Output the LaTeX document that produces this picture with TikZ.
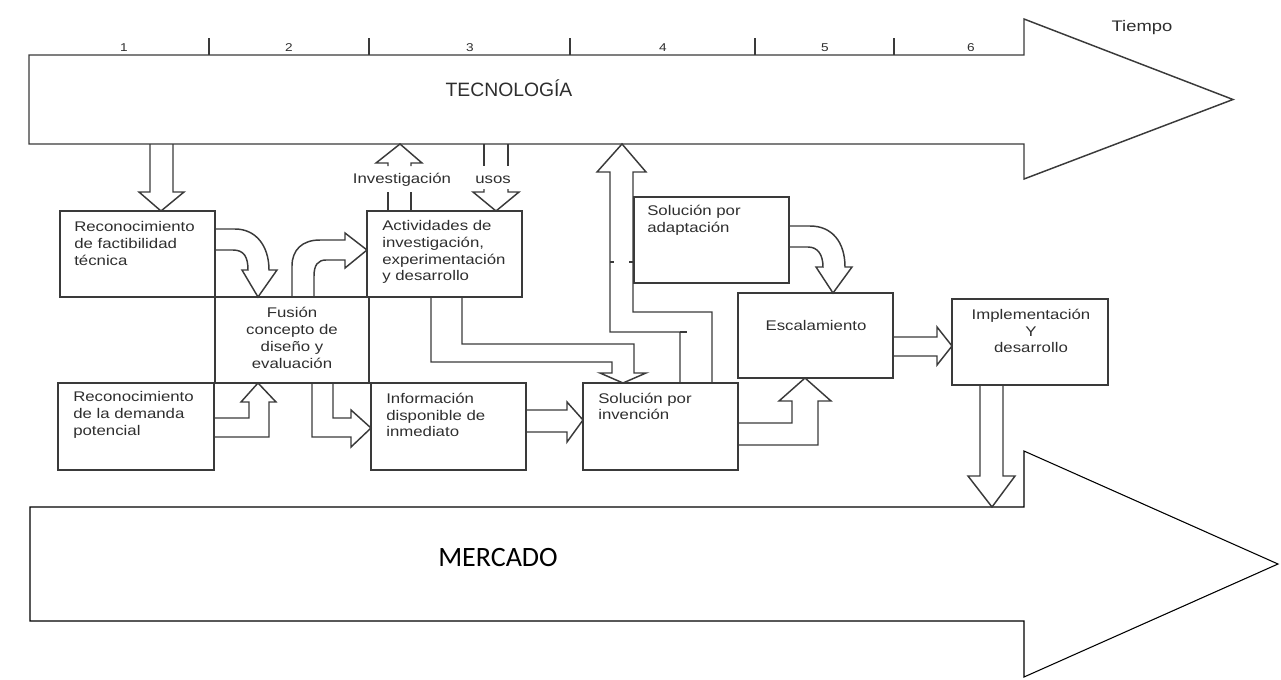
\documentclass[tikz,border=0pt]{standalone}
\usepackage{fontspec}
\setmainfont{Liberation Sans}
\newfontfamily\strfont[FakeStretch=1.2]{Liberation Sans}
\newfontfamily\mercfont{Carlito}
\usetikzlibrary{fit}
\definecolor{lncol}{HTML}{3A3A3A}
\definecolor{txtcol}{HTML}{2E2E2E}
\begin{document}
\begin{tikzpicture}[x=0.75pt,y=-0.75pt,
  ln/.style={draw=lncol, line width=1.1pt, line join=miter},
  box/.style={draw=lncol, line width=1.1pt, inner sep=0pt},
  txt/.style={font=\strfont\fontsize{10.5}{12.6}\selectfont, text=txtcol, inner sep=0pt, align=left},
  ctxt/.style={txt, align=center},
  num/.style={font=\strfont\fontsize{8.5}{10}\selectfont, text=txtcol, inner sep=0pt},
  bigarrow/.style={draw=lncol, line width=1.1pt, fill=white},
  merc/.style={draw=black, line width=0.8pt, fill=white}]
\useasboundingbox (0,0) rectangle (1281,679);

% Technology arrow
\draw[bigarrow] (29,55) -- (1024,55) -- (1024,19) -- (1233,99.5) -- (1024,179) -- (1024,144) -- (29,144) -- cycle;
\node[font=\fontsize{14.5}{16}\selectfont, text=txtcol] (tec) at (509,88) {TECNOLOGÍA};
\foreach \x in {209,369,570,755,894} \draw[ln] (\x,38) -- (\x,55);
\foreach \x/\n in {124/1,289/2,470/3,663/4,825/5,971/6} \node[num] (n\n) at (\x,48) {\n};
\node[font=\strfont\fontsize{11.5}{13}\selectfont, text=txtcol] (tiempo) at (1142,28) {Tiempo};

% Market arrow
\draw[merc] (30,507) -- (1024,507) -- (1024,451) -- (1278,564) -- (1024,677) -- (1024,621) -- (30,621) -- cycle;
\node[font=\mercfont\fontsize{21}{24}\selectfont] (mer) at (498,557) {MERCADO};

% Boxes
\node[box, fit={(60,211) (215,297)}] (A) {};
\node[box, fit={(215,297) (369,383)}] (F) {};
\node[box, fit={(367,211) (522,297)}] (Act) {};
\node[box, fit={(58,383) (214,470)}] (B) {};
\node[box, fit={(371,383) (526,470)}] (Info) {};
\node[box, fit={(583,383) (738,470)}] (SI) {};
\node[box, fit={(634,197) (789,283)}] (SA) {};
\node[box, fit={(738,293) (893,378)}] (Esc) {};
\node[box, fit={(952,299) (1108,385)}] (Imp) {};

% Box texts
\node[txt, anchor=west] (tA) at (74,243.5) {Reconocimiento\\de factibilidad\\técnica};
\node[ctxt] (tF) at (292,338) {Fusión\\concepto de\\diseño y\\evaluación};
\node[txt, anchor=west] (tAct) at (382,252) {Actividades de\\investigación,\\experimentación\\y desarrollo};
\node[txt, anchor=west] (tB) at (73,415) {Reconocimiento\\de la demanda\\potencial};
\node[txt, anchor=west] (tInfo) at (386,415) {Información\\disponible de\\inmediato};
\node[txt, anchor=west] (tSI) at (598,406.5) {Solución por\\invención};
\node[txt, anchor=west] (tSA) at (647,220.5) {Solución por\\adaptación};
\node[ctxt] (tEsc) at (816,325) {Escalamiento};
\node[ctxt] (tImp) at (1031,331) {Implementación\\Y\\desarrollo};

% Labels between technology and Actividades
\node[txt] (linv) at (402,180) {Investigación};
\node[txt] (lusos) at (493,180) {usos};

% Tech -> A
\draw[ln] (150,144) -- (150,192) -- (139,192) -- (161,211) -- (184,192) -- (173,192) -- (173,144);
% Investigacion (up)
\draw[ln] (388,166) -- (388,163) -- (376,163) -- (400,144) -- (422,163) -- (411,163) -- (411,166);
\draw[ln] (388,192) -- (388,211);
\draw[ln] (411,192) -- (411,211);
% usos (down)
\draw[ln] (484,144) -- (484,166);
\draw[ln] (508,144) -- (508,166);
\draw[ln] (484,189) -- (484,192) -- (473,192) -- (496,211) -- (519,192) -- (508,192) -- (508,189);

% A -> Fusion (curved)
\draw[ln] (215,229) -- (235,229) .. controls (256,229) and (269,246) .. (269,270) -- (277,270) -- (258,297) -- (242,270) -- (248,270) .. controls (248,257) and (244,250) .. (233,250) -- (215,250);
% Fusion -> Act (curved)
\draw[ln] (292,297) -- (292,266) .. controls (292,250) and (302,240) .. (320,240) -- (345,240) -- (345,233) -- (367,250) -- (345,268) -- (345,260) -- (326,260) .. controls (318,260) and (314,265) .. (314,276) -- (314,297);
% B -> Fusion
\draw[ln] (214,437) -- (269,437) -- (269,402) -- (276,402) -- (258,383) -- (241,402) -- (249,402) -- (249,418) -- (214,418);
% Fusion -> Info
\draw[ln] (312,383) -- (312,437) -- (351,437) -- (351,447) -- (371,428) -- (351,410) -- (351,418) -- (333,418) -- (333,383);
% Info -> SI
\draw[ln] (526,410) -- (567,410) -- (567,402) -- (583,420) -- (567,442) -- (567,432) -- (526,432);
% Act -> SI
\draw[ln] (431,297) -- (431,362) -- (612,362) -- (612,373) -- (600,373) -- (623,383) -- (646,373) -- (634,373) -- (634,344) -- (462,344) -- (462,297);
% SI -> Technology (up)
\draw[ln] (680,383) -- (680,332) -- (610,332) -- (610,172) -- (597,172) -- (622,144) -- (646,172) -- (633,172) -- (633,312) -- (712,312) -- (712,383);
\draw[ln] (680,332) -- (687,332);
\draw[ln] (610,262) -- (614,262);
\draw[ln] (629,262) -- (633,262);
% SA -> Esc (curved)
\draw[ln] (789,226) -- (810,226) .. controls (832,226) and (845,242) .. (845,267) -- (852,267) -- (833,293) -- (816,267) -- (823,267) .. controls (823,255) and (818,247) .. (808,247) -- (789,247);
% SI -> Esc
\draw[ln] (738,445) -- (818,445) -- (818,401) -- (831,401) -- (805,378) -- (779,401) -- (792,401) -- (792,423) -- (738,423);
% Esc -> Imp
\draw[ln] (893,337) -- (937,337) -- (937,327) -- (952,346) -- (937,365) -- (937,356) -- (893,356);
% Imp -> Mercado
\draw[ln] (980,385) -- (980,476) -- (968,476) -- (992,507) -- (1015,476) -- (1003,476) -- (1003,385);
\end{tikzpicture}
\end{document}
